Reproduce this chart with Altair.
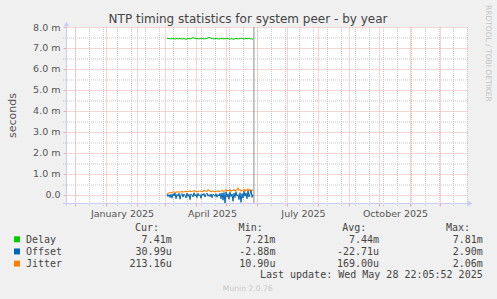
import altair as alt
import pandas as pd

# ---------------- data ----------------
TITLE = "NTP timing statistics for system peer - by year"
Y_TITLE = "seconds"
START = "2025-03-03"          # first daily sample
NOW = "2025-05-28T22:05:52Z"  # last update

delay = [
    7.47, 7.45, 7.46, 7.44, 7.43, 7.45, 7.47, 7.44, 7.42, 7.45,
    7.46, 7.43, 7.44, 7.46, 7.45, 7.42, 7.44, 7.45, 7.43, 7.41,
    7.44, 7.46, 7.45, 7.43, 7.44, 7.47, 7.50, 7.48, 7.45, 7.44,
    7.46, 7.43, 7.44, 7.45, 7.47, 7.46, 7.44, 7.43, 7.45, 7.44,
    7.46, 7.48, 7.51, 7.49, 7.46, 7.44, 7.45, 7.43, 7.44, 7.46,
    7.45, 7.44, 7.42, 7.44, 7.45, 7.46, 7.44, 7.43, 7.45, 7.44,
    7.46, 7.45, 7.43, 7.42, 7.44, 7.45, 7.41, 7.43, 7.44, 7.46,
    7.45, 7.43, 7.44, 7.45, 7.47, 7.46, 7.44, 7.43, 7.45, 7.46,
    7.44, 7.45, 7.47, 7.44, 7.43, 7.44, 7.41,
]
offset = [
    0.05, -0.08, 0.02, -0.12, 0.04, -0.15, 0.06, -0.05, 0.10, -0.18,
    0.03, -0.06, 0.08, -0.20, 0.02, 0.07, -0.10, 0.05, -0.03, -0.14,
    0.09, -0.07, 0.04, -0.22, 0.06, 0.01, -0.09, 0.11, -0.05, 0.03,
    -0.12, 0.08, -0.04, 0.02, -0.16, 0.05, -0.02, 0.07, -0.10, 0.03,
    0.09, -0.06, 0.02, -0.08, 0.05, -0.13, 0.04, 0.01, -0.07, 0.06,
    -0.11, 0.03, -0.05, 0.08, -0.18, 0.10, -0.25, 0.12, -0.38, 0.15,
    -0.10, 0.06, -0.20, 0.14, -0.08, 0.05, -0.30, 0.09, -0.12, 0.16,
    -0.05, 0.02, -0.22, 0.11, -0.35, 0.07, -0.15, 0.18, -0.06, 0.10,
    -0.18, 0.22, -0.10, 0.05, 0.25, -0.12, 0.03,
]
jitter = [
    0.06, 0.10, 0.08, 0.14, 0.09, 0.15, 0.11, 0.17, 0.10, 0.16,
    0.12, 0.18, 0.11, 0.16, 0.13, 0.19, 0.12, 0.17, 0.14, 0.20,
    0.13, 0.18, 0.15, 0.22, 0.14, 0.19, 0.16, 0.23, 0.15, 0.20,
    0.13, 0.19, 0.16, 0.21, 0.14, 0.18, 0.15, 0.24, 0.17, 0.21,
    0.15, 0.26, 0.18, 0.22, 0.14, 0.20, 0.16, 0.19, 0.13, 0.21,
    0.16, 0.22, 0.14, 0.20, 0.17, 0.23, 0.15, 0.21, 0.18, 0.27,
    0.17, 0.24, 0.19, 0.26, 0.16, 0.23, 0.20, 0.28, 0.18, 0.25,
    0.22, 0.35, 0.21, 0.27, 0.17, 0.24, 0.20, 0.29, 0.16, 0.26,
    0.20, 0.30, 0.18, 0.27, 0.21, 0.24, 0.21,
]

series_names = ["Delay", "Offset", "Jitter"]
series_colors = ["#00CC00", "#0066B3", "#FF8000"]
cur_vals = ["7.41m", "30.99u", "213.16u"]
min_vals = ["7.21m", "-2.88m", "10.90u"]
avg_vals = ["7.44m", "-22.71u", "169.00u"]
max_vals = ["7.81m", "2.90m", "2.06m"]
col_heads = ["Cur:", "Min:", "Avg:", "Max:"]
last_update = "Last update: Wed May 28 22:05:52 2025"
footer = "Munin 2.0.76"
watermark = "RRDTOOL / TOBI OETIKER"

x_domain = ["2024-11-22", "2025-12-28"]
y_domain = [-0.381, 8.0]
y_major = [0, 1, 2, 3, 4, 5, 6, 7, 8]
y_minor = [0.5, 1.5, 2.5, 3.5, 4.5, 5.5, 6.5, 7.5]
month_starts = pd.date_range("2024-12-01", "2025-12-01", freq="MS").strftime("%Y-%m-%d").tolist()
biweekly = pd.date_range("2024-12-01", "2025-12-28", freq="14D").strftime("%Y-%m-%d").tolist()
label_months = ["01", "04", "07", "10"]

# ---------------- build ----------------
def ms(s):
    return int(pd.Timestamp(s, tz="UTC").value // 10**6)

W, H = 401, 176
XS = alt.Scale(type="utc", domain=[ms(x_domain[0]), ms(x_domain[1])])
YS = alt.Scale(domain=y_domain, nice=False, zero=False)

RED = "#F0AAAA"
GRAY = "#C8C8C8"
AXC = "#C8CCF4"
TXT = "#444444"
LBL = "#555555"

n = len(delay)
dates = pd.date_range(START, periods=n, freq="D").strftime("%Y-%m-%d").tolist()
df = pd.DataFrame({
    "date": dates * 3,
    "series": [series_names[0]] * n + [series_names[1]] * n + [series_names[2]] * n,
    "value": delay + offset + jitter,
})

month_list = "[" + ",".join("'%s'" % m for m in label_months) + "]"
x_axis = alt.Axis(
    values=[ms(d) for d in month_starts],
    labelExpr="indexof(" + month_list + ", utcFormat(datum.value, '%m')) >= 0 ? "
              "utcFormat(datum.value, '%B %Y') : ''",
    labelOffset=16, ticks=True, tickSize=3, tickColor=RED, tickWidth=1,
    domain=False, grid=True, gridColor=RED, gridDash=[1, 1], gridWidth=1,
    labelFont="DejaVu Sans", labelFontSize=9.5, labelColor=LBL,
    labelPadding=2, title=None, labelFlush=False, labelOverlap=False,
)
y_axis = alt.Axis(
    values=y_major,
    labelExpr="datum.value == 0 ? '0.0' : format(datum.value, '.1f') + ' m'",
    ticks=True, tickSize=3, tickColor=RED, tickWidth=1,
    domain=False, grid=True, gridColor=RED, gridDash=[1, 1], gridWidth=1,
    labelFont="DejaVu Sans", labelFontSize=9.5, labelColor=LBL, labelPadding=3,
    title=Y_TITLE, titleFont="DejaVu Sans", titleFontSize=11, titleFontWeight="normal",
    titleColor=LBL, titleX=-51, titleY=88, titleBaseline="alphabetic",
)


def X(field):
    return alt.X(field, scale=XS, axis=x_axis, title=None)


def Y(field):
    return alt.Y(field, scale=YS, axis=y_axis, title=Y_TITLE)


one = pd.DataFrame({"a": [0]})
dots = dict(strokeDash=[1, 1], strokeWidth=1)

# minor grid (half-pixel offsets keep the dotted lines crisp)
vgrid_minor = alt.Chart(pd.DataFrame({"d": biweekly})).mark_rule(
    color=GRAY, xOffset=0.5, **dots
).encode(x=X("d:T"), y=alt.value(0), y2=alt.value(H + 3))
hgrid_minor = alt.Chart(pd.DataFrame({"v": y_minor})).mark_rule(
    color=GRAY, yOffset=0.5, **dots
).encode(y=Y("v:Q"), x=alt.value(-3), x2=alt.value(W + 1))

# axis lines + arrows
ax_left = alt.Chart(one).mark_rule(color=AXC, strokeWidth=1).encode(
    x=alt.value(0.5), y=alt.value(-4), y2=alt.value(H + 3))
ax_bottom = alt.Chart(one).mark_rule(color=AXC, strokeWidth=1).encode(
    y=alt.value(H + 0.5), x=alt.value(-3), x2=alt.value(W + 3))
arrow_up = alt.Chart(one).mark_point(
    shape="triangle-up", filled=True, size=28, color=AXC, opacity=1
).encode(x=alt.value(0.5), y=alt.value(-3))
arrow_right = alt.Chart(one).mark_point(
    shape="triangle-right", filled=True, size=28, color=AXC, opacity=1
).encode(x=alt.value(W + 3), y=alt.value(H + 0.5))

# now line
now_rule = alt.Chart(pd.DataFrame({"d": [NOW]})).mark_rule(color="#8C8C8C", strokeWidth=1).encode(
    x=X("d:T"), y=alt.value(0), y2=alt.value(H))

# series lines (drawn in legend order, Jitter on top)
lines = []
for i, name in enumerate(series_names):
    lines.append(
        alt.Chart(df).transform_filter(alt.datum.series == name).mark_line(
            strokeWidth=1, color=series_colors[i], interpolate="linear"
        ).encode(x=X("date:T"), y=Y("value:Q"))
    )

texts = []


def txt(s, x, y, **kw):
    texts.append(
        alt.Chart(pd.DataFrame({"t": [s]})).mark_text(**kw).encode(
            text="t:N", x=alt.value(x), y=alt.value(y))
    )


mono = dict(font="DejaVu Sans Mono", fontSize=10, color=TXT, baseline="alphabetic")

txt(TITLE, 182, -4, font="DejaVu Sans", fontSize=12, color=TXT, align="center", baseline="alphabetic")
txt(watermark, 421.5, -22, font="DejaVu Sans", fontSize=7.5, color="#C4C4C4",
    align="left", baseline="middle", angle=90)

for j, h in enumerate(col_heads):
    txt(h, 93 + j * 103.7, 204, align="right", **mono)

squares = []
for i, name in enumerate(series_names):
    by = 215.7 + i * 12.15
    squares.append(
        alt.Chart(one).mark_square(size=36, opacity=1, color=series_colors[i]).encode(
            x=alt.value(-49), y=alt.value(by - 3.4))
    )
    txt(name, -40, by, align="left", **mono)
    for j, v in enumerate([cur_vals[i], min_vals[i], avg_vals[i], max_vals[i]]):
        txt(v, 105.7 + j * 103.7, by, align="right", **mono)

txt(last_update, 416.7, 251.3, align="right", **mono)
txt(footer, 181.7, 264, font="DejaVu Sans", fontSize=7.6, color="#C8C8C8",
    align="center", baseline="alphabetic")

chart = alt.layer(
    vgrid_minor, hgrid_minor,
    ax_left, ax_bottom, arrow_up, arrow_right, now_rule,
    *lines, *squares, *texts,
).properties(
    width=W, height=H,
    padding={"left": 66, "top": 27, "right": 497 - 66 - W, "bottom": 299 - 27 - H},
    autosize=alt.AutoSizeParams(type="none"),
    background="#F0F0F0",
).configure_view(fill="white", stroke=None)

chart.save("out.html", embed_options={"renderer": "svg", "actions": False})
